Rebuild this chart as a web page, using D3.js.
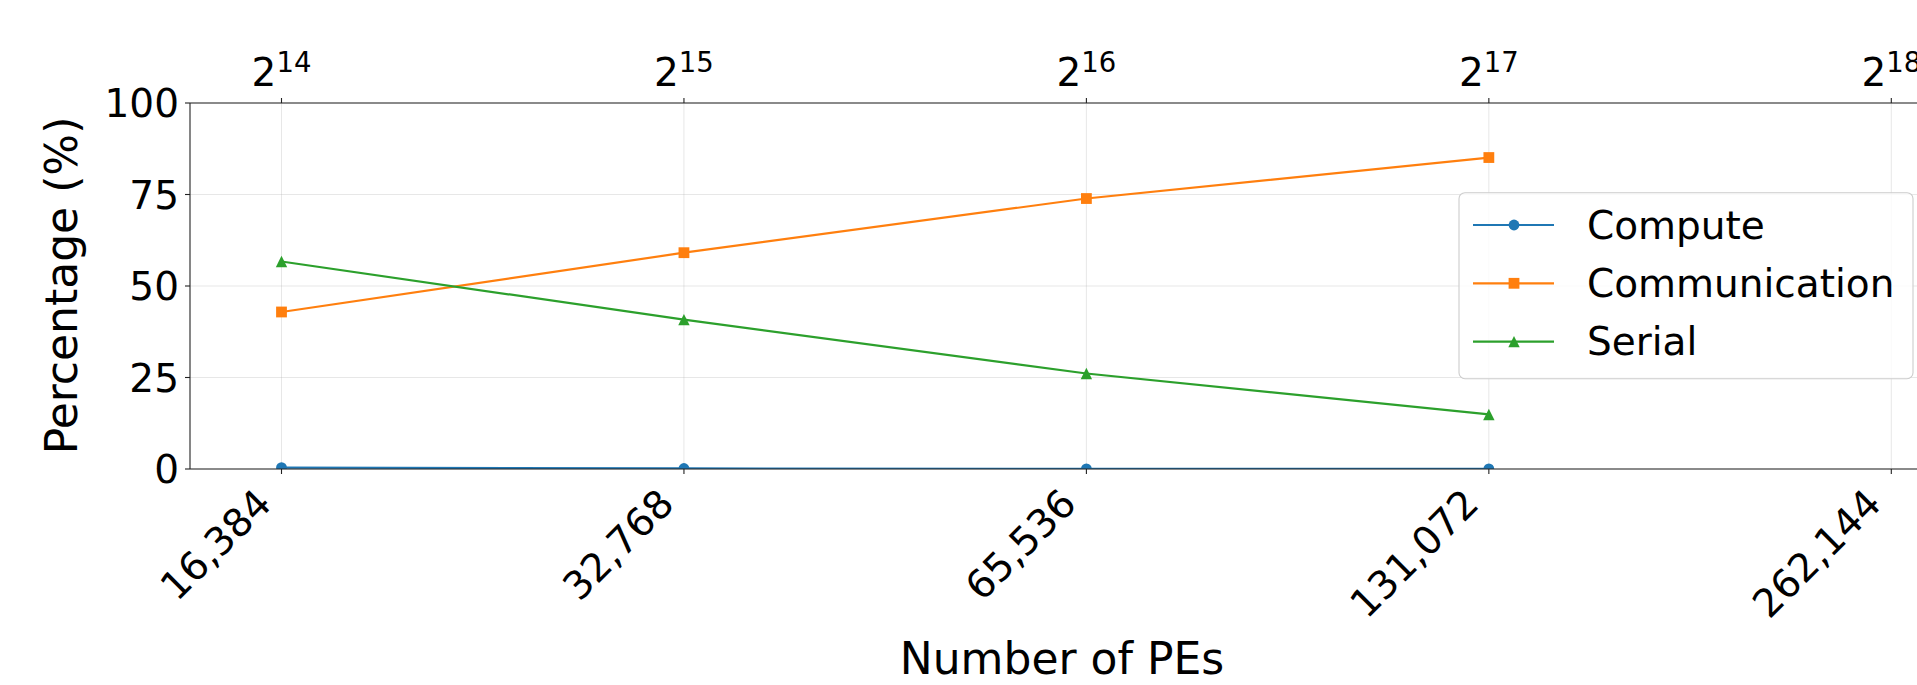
<!DOCTYPE html>
<html>
<head>
<meta charset="utf-8">
<script src="https://cdn.jsdelivr.net/npm/d3@7"></script>
<style>
  html, body { margin: 0; padding: 0; background: #fff; overflow: hidden; }
  text { font-family: "DejaVu Sans", sans-serif; fill: #000; }
</style>
</head>
<body>
<svg id="chart" width="1917" height="685"></svg>
<script>
// ---- data ----
const pes = [16384, 32768, 65536, 131072];
const compute = [0.4, 0.15, 0.05, 0.02];
const communication = [42.9, 59.1, 73.9, 85.1];
const serial = [56.7, 40.8, 26.1, 14.9];
const xTicks = [16384, 32768, 65536, 131072, 262144];
const xTopExponents = [14, 15, 16, 17, 18];
const yTicks = [0, 25, 50, 75, 100];
const seriesNames = ["Compute", "Communication", "Serial"];

// ---- layout ----
const W = 1917, H = 685;
const box = { left: 190, right: 1934, top: 103, bottom: 469 };
const colors = ["#1f77b4", "#ff7f0e", "#2ca02c"];

const svg = d3.select("#chart");

const x = d3.scaleLog().base(2)
  .domain([Math.pow(2, 14), Math.pow(2, 18)])
  .range([281.5, 1891.3]);
const y = d3.scaleLinear().domain([0, 100]).range([box.bottom, box.top]);

// triangle symbol like matplotlib '^'
const triangleUp = {
  draw(ctx, size) {
    const r = Math.sqrt(size) / 2;
    ctx.moveTo(0, -r);
    ctx.lineTo(r, r);
    ctx.lineTo(-r, r);
    ctx.closePath();
  }
};
const symbols = [d3.symbolCircle, d3.symbolSquare, triangleUp];
const symbolSizes = [Math.PI * 5.4 * 5.4, 10.8 * 10.8, 11.4 * 11.4];

// clip
svg.append("defs").append("clipPath").attr("id", "plotclip")
  .append("rect")
  .attr("x", box.left).attr("y", box.top)
  .attr("width", box.right - box.left).attr("height", box.bottom - box.top);

// grid
const grid = svg.append("g");
grid.selectAll("line.gx").data(xTicks).join("line")
  .attr("x1", d => x(d)).attr("x2", d => x(d))
  .attr("y1", box.top).attr("y2", box.bottom)
  .attr("stroke", "#b0b0b0").attr("stroke-opacity", 0.3).attr("stroke-width", 1);
grid.selectAll("line.gy").data(yTicks).join("line")
  .attr("x1", box.left).attr("x2", box.right)
  .attr("y1", d => y(d)).attr("y2", d => y(d))
  .attr("stroke", "#b0b0b0").attr("stroke-opacity", 0.3).attr("stroke-width", 1);

// series
const allSeries = [compute, communication, serial];
const plot = svg.append("g").attr("clip-path", "url(#plotclip)");
const line = d3.line().x(d => x(d[0])).y(d => y(d[1]));
allSeries.forEach((vals, i) => {
  const pts = pes.map((p, j) => [p, vals[j]]);
  plot.append("path").datum(pts)
    .attr("d", line).attr("fill", "none")
    .attr("stroke", colors[i]).attr("stroke-width", 2.2);
  plot.selectAll(null).data(pts).join("path")
    .attr("transform", d => `translate(${x(d[0])},${y(d[1])})`)
    .attr("d", d3.symbol().type(symbols[i]).size(symbolSizes[i]))
    .attr("fill", colors[i]);
});

// spines
const sp = svg.append("g").attr("stroke", "#222").attr("stroke-width", 1.1);
sp.append("line").attr("x1", box.left).attr("x2", box.left).attr("y1", box.top).attr("y2", box.bottom);
sp.append("line").attr("x1", box.right).attr("x2", box.right).attr("y1", box.top).attr("y2", box.bottom);
sp.append("line").attr("x1", box.left).attr("x2", box.right).attr("y1", box.top).attr("y2", box.top);
sp.append("line").attr("x1", box.left).attr("x2", box.right).attr("y1", box.bottom).attr("y2", box.bottom);

// bottom axis ticks
const fmt = d3.format(",");
const bt = svg.append("g");
bt.selectAll("line").data(xTicks).join("line")
  .attr("x1", d => x(d)).attr("x2", d => x(d))
  .attr("y1", box.bottom).attr("y2", box.bottom + 5)
  .attr("stroke", "#222").attr("stroke-width", 1.1);
bt.selectAll("text").data(xTicks).join("text")
  .attr("transform", d => `translate(${x(d) - 8},${box.bottom + 37}) rotate(-45)`)
  .attr("text-anchor", "end")
  .attr("font-size", 39)
  .text(d => fmt(d));

// top axis ticks
const tt = svg.append("g");
tt.selectAll("line").data(xTicks).join("line")
  .attr("x1", d => x(d)).attr("x2", d => x(d))
  .attr("y1", box.top).attr("y2", box.top - 5)
  .attr("stroke", "#222").attr("stroke-width", 1.1);
const ttext = tt.selectAll("text").data(xTicks).join("text")
  .attr("x", d => x(d)).attr("y", 86)
  .attr("text-anchor", "middle")
  .attr("font-size", 39);
ttext.append("tspan").text("2");
ttext.append("tspan").attr("font-size", 27.5).attr("dy", -14.5)
  .text((d, i) => String(xTopExponents[i]));

// left axis
const la = svg.append("g");
la.selectAll("line").data(yTicks).join("line")
  .attr("x1", box.left - 5).attr("x2", box.left)
  .attr("y1", d => y(d)).attr("y2", d => y(d))
  .attr("stroke", "#222").attr("stroke-width", 1.1);
la.selectAll("text").data(yTicks).join("text")
  .attr("x", box.left - 11).attr("y", d => y(d))
  .attr("dy", "0.36em")
  .attr("text-anchor", "end")
  .attr("font-size", 39)
  .text(d => String(d));

// axis labels
svg.append("text")
  .attr("transform", `translate(77,285.5) rotate(-90)`)
  .attr("text-anchor", "middle").attr("font-size", 44)
  .text("Percentage (%)");
svg.append("text")
  .attr("x", 1062).attr("y", 674)
  .attr("text-anchor", "middle").attr("font-size", 44)
  .text("Number of PEs");

// legend
const lg = svg.append("g");
lg.append("rect")
  .attr("x", 1459).attr("y", 192.7).attr("width", 454).attr("height", 186)
  .attr("rx", 6).attr("ry", 6)
  .attr("fill", "#fff").attr("fill-opacity", 0.8)
  .attr("stroke", "#cccccc").attr("stroke-width", 1.1);
const rowY = [225, 283.3, 341.6];
seriesNames.forEach((name, i) => {
  const g = lg.append("g").attr("transform", `translate(0,${rowY[i]})`);
  g.append("line").attr("x1", 1473).attr("x2", 1554).attr("y1", 0).attr("y2", 0)
    .attr("stroke", colors[i]).attr("stroke-width", 2.2);
  g.append("path").attr("transform", "translate(1514,0)")
    .attr("d", d3.symbol().type(symbols[i]).size(symbolSizes[i]))
    .attr("fill", colors[i]);
  g.append("text").attr("x", 1587).attr("y", 0).attr("dy", "0.35em")
    .attr("font-size", 39).text(name);
});
</script>
</body>
</html>
